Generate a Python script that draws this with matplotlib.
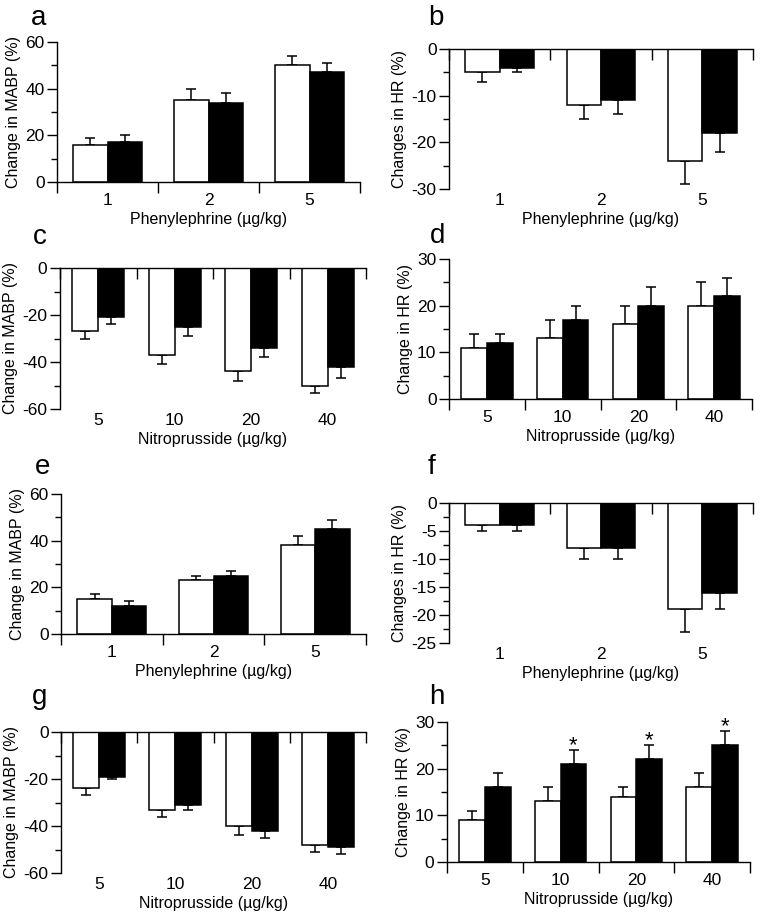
import numpy as np
import matplotlib.pyplot as plt
from matplotlib.ticker import MultipleLocator

plt.rcParams['font.family'] = ['Liberation Sans', 'DejaVu Sans']
plt.rcParams['axes.unicode_minus'] = False

# dose groups
phe_doses = ['1', '2', '5']
nitro_doses = ['5', '10', '20', '40']

# values (white bars = open, black bars = filled), errors one-sided
a_white = [16, 35, 50]
a_white_err = [3, 5, 4]
a_black = [17, 34, 47]
a_black_err = [3, 4, 4]

b_white = [-5, -12, -24]
b_white_err = [2, 3, 5]
b_black = [-4, -11, -18]
b_black_err = [1, 3, 4]

c_white = [-27, -37, -44, -50]
c_white_err = [3, 4, 4, 3]
c_black = [-21, -25, -34, -42]
c_black_err = [3, 4, 4, 5]

d_white = [11, 13, 16, 20]
d_white_err = [3, 4, 4, 5]
d_black = [12, 17, 20, 22]
d_black_err = [2, 3, 4, 4]

e_white = [15, 23, 38]
e_white_err = [2, 2, 4]
e_black = [12, 25, 45]
e_black_err = [2, 2, 4]

f_white = [-4, -8, -19]
f_white_err = [1, 2, 4]
f_black = [-4, -8, -16]
f_black_err = [1, 2, 3]

g_white = [-24, -33, -40, -48]
g_white_err = [3, 3, 4, 3]
g_black = [-19, -31, -42, -49]
g_black_err = [1, 2, 3, 3]

h_white = [9, 13, 14, 16]
h_white_err = [2, 3, 2, 3]
h_black = [16, 21, 22, 25]
h_black_err = [3, 3, 3, 3]
h_stars = ['', '*', '*', '*']

W, H = 762, 916
fig = plt.figure(figsize=(W / 100, H / 100), dpi=100)


def box(left, top, right, bottom):
    return [left / W, 1 - bottom / H, (right - left) / W, (bottom - top) / H]


def panel(pos, doses, white, werr, black, berr, ylim, major, minor,
          xlabel, ylabel, stars=None):
    ax = fig.add_axes(box(*pos))
    n = len(doses)
    x = np.arange(n)
    w = 0.34
    neg = ylim[1] == 0
    for vals, errs, col, off in [(white, werr, 'white', -w / 2), (black, berr, 'black', w / 2)]:
        vals = np.array(vals)
        errs = np.array(errs)
        if neg:
            yerr = [errs, np.zeros(n)]
        else:
            yerr = [np.zeros(n), errs]
        ax.errorbar(x + off, vals, yerr=yerr, fmt='none', ecolor='black',
                    elinewidth=1.1, capsize=3.7, capthick=1.1, zorder=1)
        ax.bar(x + off, vals, width=w, color=col, edgecolor='black',
               linewidth=1.1, zorder=2)
    if stars is not None:
        for i, s in enumerate(stars):
            if s:
                ax.text(x[i] + w / 2, black[i] + berr[i] + 0.9, s,
                        ha='center', va='center', fontsize=16)

    ax.set_xlim(-0.5, n - 0.5)
    ax.set_ylim(*ylim)
    ax.yaxis.set_major_locator(MultipleLocator(major))
    ax.yaxis.set_minor_locator(MultipleLocator(minor))
    ax.tick_params(axis='y', which='major', length=7, width=1, labelsize=12.5, pad=2)
    ax.tick_params(axis='y', which='minor', length=4, width=1)

    # boundary ticks as major, category labels as minor
    ax.set_xticks(np.arange(n + 1) - 0.5)
    ax.set_xticklabels([''] * (n + 1))
    ax.set_xticks(x, doses, minor=True)
    ax.spines['right'].set_visible(False)
    if neg:
        ax.spines['bottom'].set_visible(False)
        ax.tick_params(axis='x', which='major', bottom=False, top=True,
                       direction='in', length=8, width=1)
        ax.tick_params(axis='x', which='minor', length=0, labelsize=12.5, pad=3)
    else:
        ax.spines['top'].set_visible(False)
        ax.tick_params(axis='x', which='major', direction='out', length=8, width=1)
        ax.tick_params(axis='x', which='minor', length=0, labelsize=12.5, pad=8)
    for sp in ax.spines.values():
        sp.set_linewidth(1)
    ax.set_xlabel(xlabel, fontsize=11.5, labelpad=3)
    ax.set_ylabel(ylabel, fontsize=11.5, labelpad=3)
    return ax


phe = 'Phenylephrine (µg/kg)'
nit = 'Nitroprusside (µg/kg)'

panel((57, 42, 360, 182), phe_doses, a_white, a_white_err, a_black, a_black_err,
      (0, 60), 20, 10, phe, 'Change in MABP (%)')
panel((449, 49, 753, 189), phe_doses, b_white, b_white_err, b_black, b_black_err,
      (-30, 0), 10, 5, phe, 'Changes in HR (%)')
panel((60, 268, 366, 409), nitro_doses, c_white, c_white_err, c_black, c_black_err,
      (-60, 0), 20, 10, nit, 'Change in MABP (%)')
panel((449, 259, 752, 399), nitro_doses, d_white, d_white_err, d_black, d_black_err,
      (0, 30), 10, 5, nit, 'Change in HR (%)')
panel((61, 494, 366, 634), phe_doses, e_white, e_white_err, e_black, e_black_err,
      (0, 60), 20, 10, phe, 'Change in MABP (%)')
panel((449, 503, 753, 643), phe_doses, f_white, f_white_err, f_black, f_black_err,
      (-25, 0), 5, 2.5, phe, 'Changes in HR (%)')
panel((61, 732, 366, 873), nitro_doses, g_white, g_white_err, g_black, g_black_err,
      (-60, 0), 20, 10, nit, 'Change in MABP (%)')
panel((447, 722, 750, 862), nitro_doses, h_white, h_white_err, h_black, h_black_err,
      (0, 30), 10, 5, nit, 'Change in HR (%)', stars=h_stars)

letters = [('a', 39, 18), ('b', 436, 18), ('c', 40, 237), ('d', 438, 236),
           ('e', 43, 467), ('f', 432, 467), ('g', 40, 697), ('h', 437, 697)]
for t, px, py in letters:
    fig.text(px / W, 1 - py / H, t, ha='center', va='center', fontsize=20)

fig.savefig('out.png', dpi=100)
